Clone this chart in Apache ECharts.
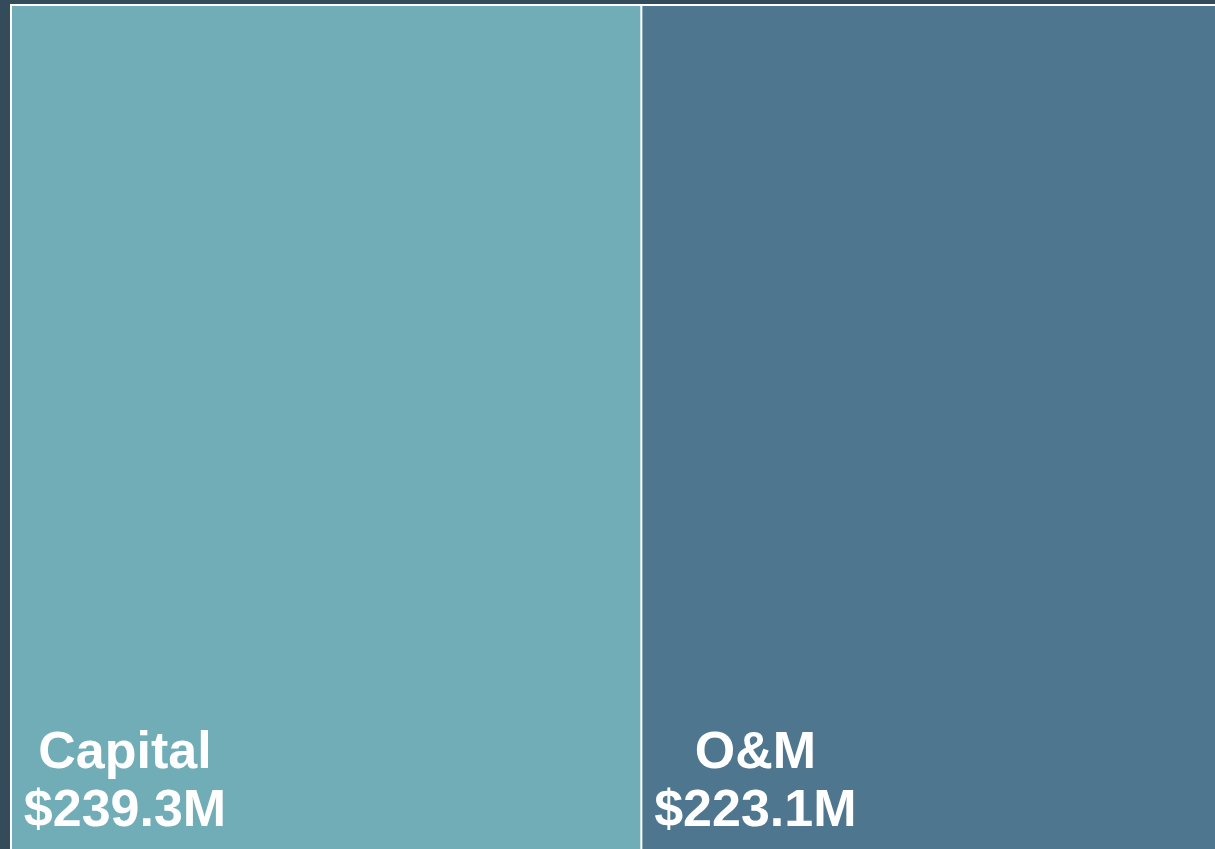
<!DOCTYPE html>
<html>
<head>
<meta charset="utf-8">
<script src="https://cdn.jsdelivr.net/npm/echarts@6/dist/echarts.min.js"></script>
<style>
html,body{margin:0;padding:0;background:#344b5c;}
#chart{width:1215px;height:849px;}
</style>
</head>
<body>
<div id="chart"></div>
<script>
const categories = ['Capital', 'O&M'];
const values = [239.3, 223.1];
const colors = ['#71adb7', '#4f768f'];

const chart = echarts.init(document.getElementById('chart'), null, {renderer: 'canvas'});
const data = categories.map((name, i) => ({
  name: name,
  value: values[i],
  itemStyle: { color: colors[i] }
}));

chart.setOption({
  backgroundColor: '#344b5c',
  series: [{
    type: 'treemap',
    left: 10,
    top: 4,
    width: 1220,
    height: 852,
    squareRatio: 1,
    roam: false,
    nodeClick: false,
    breadcrumb: { show: false },
    animation: false,
    levels: [
      { itemStyle: { borderWidth: 2, borderColor: '#ffffff', gapWidth: 2 } },
      { itemStyle: { borderWidth: 0, gapWidth: 0 } }
    ],
    label: {
      show: true,
      position: [113, 840],
      align: 'center',
      verticalAlign: 'bottom',
      color: '#ffffff',
      fontFamily: '"Liberation Sans", Arial, sans-serif',
      fontWeight: 'bold',
      fontSize: 52,
      lineHeight: 58,
      formatter: p => p.name + '\n$' + p.value.toFixed(1) + 'M'
    },
    data: data
  }]
});
</script>
</body>
</html>
